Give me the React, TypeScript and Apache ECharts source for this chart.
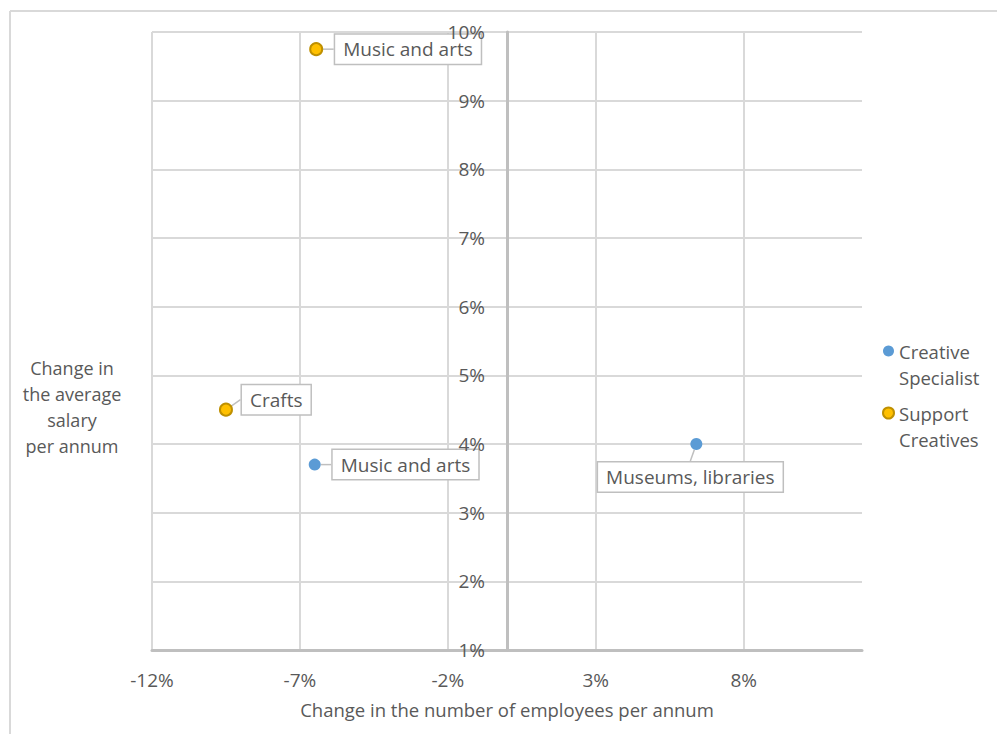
import React, { useEffect, useRef } from "react";
import * as echarts from "echarts";

const creativeNames = ["Music and arts", "Museums, libraries"];
const creativeX = [-6.5, 6.4];
const creativeY = [3.7, 4.0];

const supportNames = ["Music and arts", "Crafts"];
const supportX = [-6.45, -9.5];
const supportY = [9.75, 4.5];

const seriesNames = ["Creative Specialist", "Support Creatives"];
const xAxisTitle = "Change in the number of employees per annum";
const yAxisTitle = "Change in\nthe average\nsalary\nper annum";

const FONT = "'Open Sans', sans-serif";
const TEXT = "#595959";

export default function App() {
  const ref = useRef<HTMLDivElement>(null);
  useEffect(() => {
    if (!ref.current) return;
    const chart = echarts.init(ref.current, null, { renderer: "svg" });
    const gridLeft = 152;
    const gridRight = 135;
    const plotWidth = 997 - gridLeft - gridRight;
    const labelBase = {
      show: true,
      position: "right",
      distance: 5,
      color: TEXT,
      fontFamily: FONT,
      fontSize: 19,
      backgroundColor: "#ffffff",
      borderColor: "#bfbfbf",
      borderWidth: 1.5,
      padding: [5, 8, 5, 8],
      formatter: (p: any) => p.data[2],
    };
    const labelLine = { show: true, lineStyle: { color: "#bfbfbf", width: 1.5 } };
    const creativeOffsets = [
      { dx: 7, dy: 0 },
      { dx: -6, dy: 3 },
    ];
    const supportOffsets = [
      { dx: 7, dy: 0 },
      { dx: 4, dy: -10 },
    ];
    const yBase = { type: "value", min: 1, max: 10, interval: 1 };
    chart.setOption({
      animation: false,
      textStyle: { fontFamily: FONT },
      grid: { left: gridLeft, right: gridRight, top: 32, bottom: 84 },
      legend: {
        orient: "vertical",
        left: 882,
        top: 312,
        padding: 0,
        itemGap: -16,
        itemWidth: 11,
        itemHeight: 11,
        icon: "circle",
        data: seriesNames,
        formatter: (n: string) => "\n" + n.replace(" ", "\n"),
        textStyle: {
          color: TEXT,
          fontFamily: FONT,
          fontSize: 18.5,
          lineHeight: 26,
        },
      },
      xAxis: {
        type: "value",
        min: -12,
        max: 12,
        interval: 5,
        name: xAxisTitle,
        nameLocation: "middle",
        nameGap: 50,
        nameTextStyle: { color: TEXT, fontFamily: FONT, fontSize: 18.5 },
        axisLine: { onZero: false, lineStyle: { color: "#bfbfbf", width: 3 } },
        axisTick: { show: false },
        axisLabel: {
          color: TEXT,
          fontFamily: FONT,
          fontSize: 19,
          margin: 20,
          showMaxLabel: false,
          formatter: (v: number) => v + "%",
        },
        splitLine: { show: true, showMaxLine: false, lineStyle: { color: "#d9d9d9", width: 2 } },
      },
      yAxis: [
        {
          ...yBase,
          position: "left",
          offset: -plotWidth / 2,
          z: 5,
          axisLine: { show: true, onZero: false, lineStyle: { color: "#bfbfbf", width: 3 } },
          axisTick: { show: false },
          axisLabel: {
            color: TEXT,
            fontFamily: FONT,
            fontSize: 19,
            margin: 22,
            formatter: (v: number) => v + "%",
          },
          splitLine: { show: false },
        },
        {
          ...yBase,
          position: "right",
          z: 0,
          axisLine: { show: false, onZero: false },
          axisTick: { show: false },
          axisLabel: { show: false },
          splitLine: { show: true, lineStyle: { color: "#d9d9d9", width: 2 } },
        },
      ],
      graphic: [
        { type: "line", shape: { x1: 10, y1: 11, x2: 997, y2: 11 }, style: { stroke: "#d9d9d9", lineWidth: 2 } },
        { type: "line", shape: { x1: 10, y1: 11, x2: 10, y2: 734 }, style: { stroke: "#d9d9d9", lineWidth: 2 } },
        {
          type: "text",
          x: 72,
          y: 407,
          style: {
            text: yAxisTitle,
            fill: TEXT,
            font: "18px 'Open Sans', sans-serif",
            lineHeight: 26,
            align: "center",
            verticalAlign: "middle",
          },
        },
      ],
      series: [
        {
          name: seriesNames[0],
          type: "scatter",
          yAxisIndex: 0,
          symbolSize: 12,
          itemStyle: { color: "#5B9BD5", opacity: 1 },
          data: creativeX.map((x, i) => [x, creativeY[i], creativeNames[i]]),
          label: { ...labelBase },
          labelLine,
          labelLayout: (p: any) => {
            const o = creativeOffsets[p.dataIndex];
            return p.dataIndex === 1
              ? { x: p.rect.x + p.rect.width / 2 + o.dx, y: p.rect.y + p.rect.height + 24 + o.dy, align: "center", verticalAlign: "middle" }
              : { dx: o.dx, dy: o.dy };
          },
        },
        {
          name: seriesNames[1],
          type: "scatter",
          yAxisIndex: 0,
          symbolSize: 12,
          itemStyle: { color: "#FFC000", borderColor: "#BF9000", borderWidth: 2, opacity: 1 },
          data: supportX.map((x, i) => [x, supportY[i], supportNames[i]]),
          label: { ...labelBase },
          labelLine,
          labelLayout: (p: any) => {
            const o = supportOffsets[p.dataIndex];
            return { dx: o.dx, dy: o.dy };
          },
        },
      ],
    });
    return () => chart.dispose();
  }, []);
  return (
    <div
      ref={ref}
      style={{ position: "fixed", left: 0, top: 0, width: 997, height: 734, background: "#fff" }}
    />
  );
}
